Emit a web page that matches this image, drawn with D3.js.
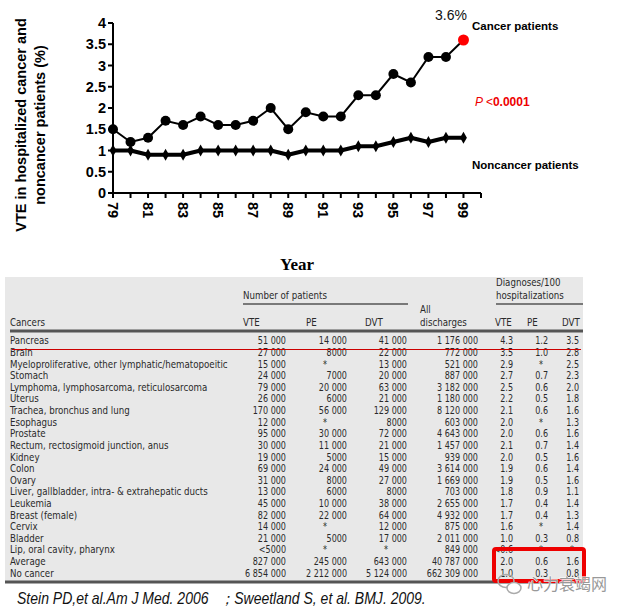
<!DOCTYPE html>
<html lang="en">
<head>
<meta charset="utf-8">
<title>VTE in hospitalized cancer patients</title>
<script src="https://cdn.jsdelivr.net/npm/d3@7"></script>
<style>
  body { margin: 0; background: #fff; }
  svg { display: block; }
</style>
</head>
<body>
<div id="main"></div>
<script>
// ---- chart data ----
const years = [79, 80, 81, 82, 83, 84, 85, 86, 87, 88, 89, 90, 91, 92, 93, 94, 95, 96, 97, 98, 99];
const cancer = [1.5, 1.2, 1.3, 1.7, 1.6, 1.8, 1.6, 1.6, 1.7, 2.0, 1.5, 1.9, 1.8, 1.8, 2.3, 2.3, 2.8, 2.6, 3.2, 3.2, 3.6];
const noncancer = [1.0, 1.0, 0.9, 0.9, 0.9, 1.0, 1.0, 1.0, 1.0, 1.0, 0.9, 1.0, 1.0, 1.0, 1.1, 1.1, 1.2, 1.3, 1.2, 1.3, 1.3];
const yTicks = [0, 0.5, 1, 1.5, 2, 2.5, 3, 3.5, 4];
const xTickLabels = [79, 81, 83, 85, 87, 89, 91, 93, 95, 97, 99];

// ---- table data ----
const cancers = ["Pancreas", "Brain", "Myeloproliferative, other lymphatic/hematopoeitic", "Stomach",
  "Lymphoma, lymphosarcoma, reticulosarcoma", "Uterus", "Trachea, bronchus and lung", "Esophagus",
  "Prostate", "Rectum, rectosigmoid junction, anus", "Kidney", "Colon", "Ovary",
  "Liver, gallbladder, intra- & extrahepatic ducts", "Leukemia", "Breast (female)", "Cervix",
  "Bladder", "Lip, oral cavity, pharynx", "Average", "No cancer"];
const vteN = ["51 000", "27 000", "15 000", "24 000", "79 000", "26 000", "170 000", "12 000", "95 000", "30 000",
  "19 000", "69 000", "31 000", "13 000", "45 000", "82 000", "14 000", "21 000", "<5000", "827 000", "6 854 000"];
const peN = ["14 000", "8000", "*", "7000", "20 000", "6000", "56 000", "*", "30 000", "11 000",
  "5000", "24 000", "8000", "6000", "10 000", "22 000", "*", "5000", "*", "245 000", "2 212 000"];
const dvtN = ["41 000", "22 000", "13 000", "20 000", "63 000", "21 000", "129 000", "8000", "72 000", "21 000",
  "15 000", "49 000", "27 000", "8000", "38 000", "64 000", "12 000", "17 000", "*", "643 000", "5 124 000"];
const allDischarges = ["1 176 000", "772 000", "521 000", "887 000", "3 182 000", "1 180 000", "8 120 000", "603 000",
  "4 643 000", "1 457 000", "939 000", "3 614 000", "1 669 000", "703 000", "2 655 000", "4 932 000", "875 000",
  "2 011 000", "849 000", "40 787 000", "662 309 000"];
const vteRate = ["4.3", "3.5", "2.9", "2.7", "2.5", "2.2", "2.1", "2.0", "2.0", "2.1", "2.0", "1.9", "1.9", "1.8",
  "1.7", "1.7", "1.6", "1.0", "<0.6", "2.0", "1.0"];
const peRate = ["1.2", "1.0", "*", "0.7", "0.6", "0.5", "0.6", "*", "0.6", "0.7", "0.5", "0.6", "0.5", "0.9",
  "0.4", "0.4", "*", "0.3", "*", "0.6", "0.3"];
const dvtRate = ["3.5", "2.8", "2.5", "2.3", "2.0", "1.8", "1.6", "1.3", "1.6", "1.4", "1.6", "1.4", "1.6", "1.1",
  "1.4", "1.3", "1.4", "0.8", "*", "1.6", "0.8"];

const W = 621, H = 611;
const svg = d3.select("#main").append("svg")
  .attr("width", W)
  .attr("height", H);

// measure natural width of a string in a given font, to squeeze text horizontally
function measure(str, family, size, style) {
  const t = svg.append("text")
    .attr("font-family", family).attr("font-size", size)
    .attr("font-style", style || "normal")
    .style("white-space", "pre")
    .text(str);
  const w = t.node().getComputedTextLength();
  t.remove();
  return w;
}

// ================= line chart =================
const x = d3.scaleLinear().domain([79, 100]).range([113, 481]);
const y = d3.scaleLinear().domain([0, 4]).range([193, 23]);
const bold = "'Liberation Sans', Arial, sans-serif";

const chart = svg.append("g");

// axes lines
chart.append("line").attr("x1", x(79)).attr("x2", x(100)).attr("y1", y(0)).attr("y2", y(0))
  .attr("stroke", "#000").attr("stroke-width", 2);
chart.append("line").attr("x1", x(79)).attr("x2", x(79)).attr("y1", y(0) + 1).attr("y2", y(4))
  .attr("stroke", "#000").attr("stroke-width", 2);

// y ticks
chart.selectAll("line.ytick").data(yTicks).enter().append("line")
  .attr("class", "ytick")
  .attr("x1", x(79) - 5).attr("x2", x(79))
  .attr("y1", d => y(d)).attr("y2", d => y(d))
  .attr("stroke", "#000").attr("stroke-width", 2);
chart.selectAll("text.ylab").data(yTicks).enter().append("text")
  .attr("class", "ylab")
  .attr("x", x(79) - 7)
  .attr("y", d => y(d) + 5)
  .attr("text-anchor", "end")
  .attr("font-family", bold).attr("font-weight", "bold").attr("font-size", "14.5px")
  .text(d => d);

// x ticks (every year + end)
chart.selectAll("line.xtick").data(years.concat([100])).enter().append("line")
  .attr("class", "xtick")
  .attr("x1", d => x(d)).attr("x2", d => x(d))
  .attr("y1", y(0)).attr("y2", y(0) + 5)
  .attr("stroke", "#000").attr("stroke-width", 2);
chart.selectAll("text.xlab").data(xTickLabels).enter().append("text")
  .attr("class", "xlab")
  .attr("transform", d => `translate(${x(d)},${y(0) + 9}) rotate(90)`)
  .attr("dy", "0.35em")
  .attr("font-family", bold).attr("font-weight", "bold").attr("font-size", "14.5px")
  .text(d => d);

// axis titles
const yTitle = chart.append("text")
  .attr("transform", "translate(26,125) rotate(-90)")
  .attr("text-anchor", "middle")
  .attr("font-family", bold).attr("font-weight", "bold").attr("font-size", "14.5px");
yTitle.append("tspan").attr("x", 0).attr("dy", 0).text("VTE in hospitalized cancer and");
yTitle.append("tspan").attr("x", 0).attr("dy", 19).text("noncancer patients (%)");

chart.append("text")
  .attr("x", 297).attr("y", 270)
  .attr("text-anchor", "middle")
  .attr("font-family", "'Liberation Serif', 'Times New Roman', serif")
  .attr("font-weight", "bold").attr("font-size", "17px")
  .text("Year");

// noncancer series: thick line + diamonds
const line = d3.line().x((d, i) => x(years[i])).y(d => y(d));
chart.append("path").datum(noncancer)
  .attr("d", line)
  .attr("fill", "none").attr("stroke", "#000").attr("stroke-width", 4)
  .attr("stroke-linejoin", "round");
chart.selectAll("path.diamond").data(noncancer).enter().append("path")
  .attr("class", "diamond")
  .attr("d", d3.symbol(d3.symbolDiamond, 40))
  .attr("transform", (d, i) => `translate(${x(years[i])},${y(d)})`)
  .attr("fill", "#000");

// cancer series: line + circles
chart.append("path").datum(cancer)
  .attr("d", line)
  .attr("fill", "none").attr("stroke", "#000").attr("stroke-width", 2);
chart.selectAll("circle.pt").data(cancer).enter().append("circle")
  .attr("class", "pt")
  .attr("cx", (d, i) => x(years[i]))
  .attr("cy", d => y(d))
  .attr("r", (d, i) => i === cancer.length - 1 ? 5.5 : 5)
  .attr("fill", (d, i) => i === cancer.length - 1 ? "#f00" : "#000");

// annotations
chart.append("text")
  .attr("x", 435).attr("y", 20)
  .attr("font-family", bold).attr("font-size", "14px").attr("fill", "#111")
  .text("3.6%");
chart.append("text")
  .attr("x", 472).attr("y", 30)
  .attr("font-family", bold).attr("font-weight", "bold").attr("font-size", "11.5px")
  .text("Cancer patients");
chart.append("text")
  .attr("x", 472).attr("y", 169)
  .attr("font-family", bold).attr("font-weight", "bold").attr("font-size", "11.5px")
  .text("Noncancer patients");
const pText = chart.append("text")
  .attr("x", 475).attr("y", 106)
  .attr("font-family", bold).attr("font-size", "12px").attr("fill", "#e00");
pText.append("tspan").attr("font-style", "italic").text("P ");
pText.append("tspan").text("<");
pText.append("tspan").attr("font-weight", "bold").text("0.0001");

// ================= table =================
const tFont = "'DejaVu Sans Condensed', 'DejaVu Sans', sans-serif";
const tSize = 11;
const tColor = "#2a2a2a";
// horizontal squeeze so the sans text matches the narrow journal face
const sxName = 218 / measure(cancers[2], tFont, tSize);
const sxNum = 41 / measure("6 854 000", tFont, tSize);

const table = svg.append("g")
  .attr("font-family", tFont).attr("font-size", tSize + "px").attr("fill", tColor);

function cell(g, str, px, py, anchor, sx) {
  g.append("text")
    .attr("transform", `translate(${px},${py}) scale(${sx},1)`)
    .attr("text-anchor", anchor || "start")
    .text(str);
}

table.append("rect")
  .attr("x", 5).attr("y", 277).attr("width", 578).attr("height", 306)
  .attr("fill", "#e8e8e8");

// header
cell(table, "Number of patients", 243, 299, "start", sxName);
table.append("line").attr("x1", 243).attr("x2", 408).attr("y1", 304).attr("y2", 304)
  .attr("stroke", "#555").attr("stroke-width", 1.5);
cell(table, "Diagnoses/100", 496, 286, "start", sxName);
cell(table, "hospitalizations", 496, 299, "start", sxName);
table.append("line").attr("x1", 496).attr("x2", 583).attr("y1", 304).attr("y2", 304)
  .attr("stroke", "#555").attr("stroke-width", 1.5);
cell(table, "All", 420, 313, "start", sxName);
cell(table, "discharges", 420, 326, "start", sxName);

const headers = [
  { t: "Cancers", x: 10 }, { t: "VTE", x: 243 }, { t: "PE", x: 306 }, { t: "DVT", x: 365 },
  { t: "VTE", x: 495 }, { t: "PE", x: 527 }, { t: "DVT", x: 562 }
];
headers.forEach(h => cell(table, h.t, h.x, 326, "start", sxName));
table.append("line").attr("x1", 10).attr("x2", 583).attr("y1", 331).attr("y2", 331)
  .attr("stroke", "#555").attr("stroke-width", 3);

// rows
const rowY = d3.scalePoint().domain(cancers).range([340.3, 572.7]);
cancers.forEach(c => cell(table, c, 10, rowY(c) + 4, "start", sxName));

const columns = [
  { vals: vteN, right: 286, star: 275 },
  { vals: peN, right: 347, star: 325 },
  { vals: dvtN, right: 407, star: 386 },
  { vals: allDischarges, right: 478, star: 460 },
  { vals: vteRate, right: 513, star: 505 },
  { vals: peRate, right: 548, star: 541 },
  { vals: dvtRate, right: 579, star: 572 }
];
columns.forEach(col => {
  col.vals.forEach((v, i) => {
    const star = v === "*";
    cell(table, v, star ? col.star : col.right, rowY(cancers[i]) + 4, star ? "middle" : "end", sxNum);
  });
});

table.append("line").attr("x1", 5).attr("x2", 583).attr("y1", 582).attr("y2", 582)
  .attr("stroke", "#555").attr("stroke-width", 3);

// red strike line under pancreas row
table.append("line").attr("x1", 12).attr("x2", 581).attr("y1", 349.5).attr("y2", 349.5)
  .attr("stroke", "#c00").attr("stroke-width", 1.2);

// red highlight box
table.append("rect")
  .attr("x", 494).attr("y", 549).attr("width", 90).attr("height", 32)
  .attr("rx", 2)
  .attr("fill", "none").attr("stroke", "#e00").attr("stroke-width", 4);

// footnote
const noteText = "Stein PD,et al.Am J Med. 2006   \uFF1BSweetland S, et al. BMJ. 2009.";
const noteFont = "'Liberation Sans', Arial, sans-serif";
const sxNote = 409 / measure(noteText, noteFont, 16, "italic");
svg.append("text")
  .attr("transform", `translate(17,604) scale(${sxNote},1)`)
  .attr("font-family", noteFont)
  .attr("font-style", "italic").attr("font-size", "16px").attr("fill", "#111")
  .style("white-space", "pre")
  .text(noteText);

// watermark
const wm = svg.append("g");
wm.append("ellipse").attr("cx", 506).attr("cy", 581).attr("rx", 8).attr("ry", 6.5)
  .attr("fill", "none").attr("stroke", "#aaa").attr("stroke-width", 1.5);
wm.append("ellipse").attr("cx", 514).attr("cy", 588).attr("rx", 7).attr("ry", 5.5)
  .attr("fill", "#fff").attr("stroke", "#aaa").attr("stroke-width", 1.5);
wm.append("text")
  .attr("x", 527).attr("y", 590)
  .attr("font-family", "'Noto Sans CJK SC', sans-serif").attr("font-size", "16px")
  .attr("fill", "#999").attr("stroke", "#fff").attr("stroke-width", 0.8)
  .attr("paint-order", "stroke")
  .text("心力衰竭网");
</script>
</body>
</html>
